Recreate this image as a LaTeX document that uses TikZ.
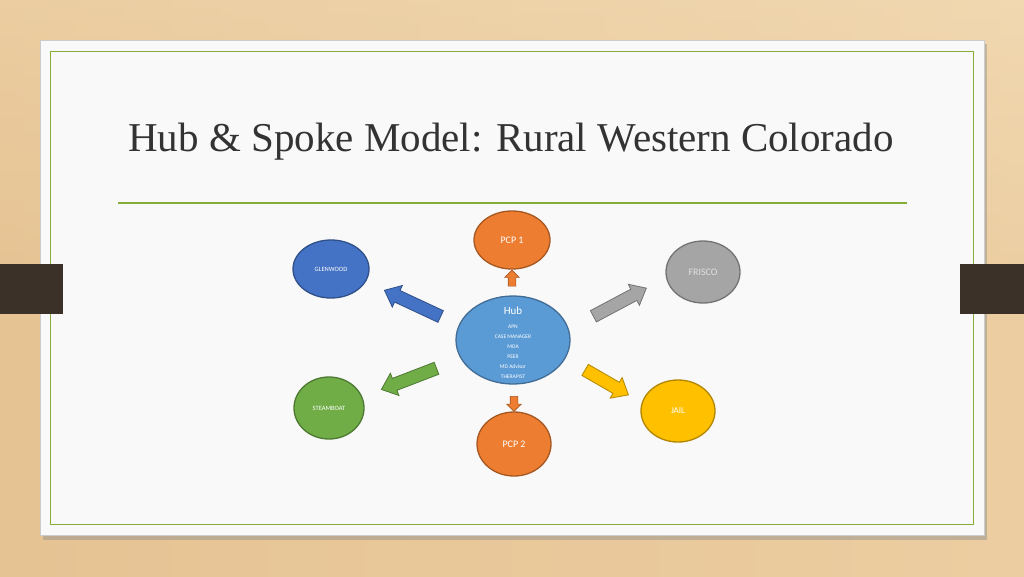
\documentclass[tikz,border=0pt]{standalone}
\usepackage{fontspec}
\setmainfont{Liberation Serif}
\newfontfamily\lblfont{Carlito}
\usetikzlibrary{shapes.geometric,shapes.arrows}
\definecolor{wood}{HTML}{E6C393}
\definecolor{woodlight}{HTML}{F1D8B0}
\definecolor{card}{HTML}{F9F9F9}
\definecolor{olive}{HTML}{86AD38}
\definecolor{tab}{HTML}{3B3129}
\definecolor{cblue}{HTML}{4472C4}
\definecolor{corange}{HTML}{ED7D31}
\definecolor{cgray}{HTML}{A5A5A5}
\definecolor{cyellow}{HTML}{FFC000}
\definecolor{cgreen}{HTML}{70AD47}
\definecolor{chub}{HTML}{5B9BD5}
\tikzset{
  blob/.style={ellipse, fill=#1, draw=#1!70!black, line width=1.3pt, inner sep=0pt, text=white, font=\lblfont},
  barrow/.style={single arrow, fill=#1, draw=#1!70!black, line width=0.8pt, single arrow head extend=5.5pt, inner sep=6pt, single arrow head indent=0pt, single arrow tip angle=80},
  sarrow/.style={single arrow, fill=#1, draw=#1!70!black, line width=0.6pt, single arrow head extend=3.5pt, inner sep=3.5pt, single arrow tip angle=90},
}
\begin{document}
\begin{tikzpicture}[x=1pt,y=-1pt]
\useasboundingbox (0,0) rectangle (1024,576);
% background
\shade[top color=woodlight, bottom color=wood, middle color=wood] (0,0) rectangle (1024,576);
\shade[left color=wood, right color=woodlight, opacity=0.5] (0,0) rectangle (1024,576);
% card shadow and card
\fill[black!45,opacity=0.45] (43,44) rectangle (987,540);
\fill[card] (40,40) rectangle (984,535);
\draw[black!20,line width=0.5pt] (40,40) rectangle (984,535);
\draw[olive,line width=1pt] (50,51) rectangle (973,524);
% title
\node[font=\fontsize{41}{46}\selectfont, text=black!80] (title) at (511,142) {Hub \& Spoke Model: Rural Western Colorado};
\draw[olive,line width=1.1pt] (118,203) -- (907,203);
% nodes
\node[blob=chub, minimum width=114pt, minimum height=88pt] (hub) at (513,340) {};
\node[text=white, font=\lblfont\fontsize{11}{12}\selectfont] (hubt) at (513,311) {Hub};
\node[text=white, font=\lblfont\fontsize{5.5}{10}\selectfont, align=center] (hubl) at (513,352) {APN\\CASE MANAGER\\MOA\\PEER\\MD Advisor\\THERAPIST};
\node[blob=corange, minimum width=76pt, minimum height=58pt, font=\lblfont\fontsize{10}{12}\selectfont] (pcp1) at (512,240) {PCP 1};
\node[blob=corange, minimum width=74pt, minimum height=64pt, font=\lblfont\fontsize{10}{12}\selectfont] (pcp2) at (514,444) {PCP 2};
\node[blob=cblue, minimum width=76pt, minimum height=58pt, font=\lblfont\fontsize{6.5}{8}\selectfont] (glen) at (331,269) {GLENWOOD};
\node[blob=cgray, minimum width=74pt, minimum height=62pt, text=black!12, font=\lblfont\fontsize{10}{12}\selectfont] (frisco) at (703,272) {FRISCO};
\node[blob=cgreen, minimum width=70pt, minimum height=62pt, font=\lblfont\fontsize{6.5}{8}\selectfont] (steam) at (329,408) {STEAMBOAT};
\node[blob=cyellow, minimum width=74pt, minimum height=62pt, font=\lblfont\fontsize{9}{10}\selectfont] (jail) at (678,411) {JAIL};
% block arrows
\node[sarrow=corange, minimum height=16pt, rotate=90] (a1) at (512,280) {};
\node[sarrow=corange, minimum height=15pt, rotate=-90] (a2) at (514,402) {};
\node[barrow=cblue, minimum height=62pt, rotate=155] (a3) at (416,305) {};
\node[barrow=cgray, minimum height=60pt, rotate=28] (a4) at (616.5,304) {};
\node[barrow=cgreen, minimum height=59pt, rotate=201] (a5) at (412.5,377.5) {};
\node[barrow=cyellow, minimum height=50pt, rotate=-30] (a6) at (603.5,380.5) {};
% tabs
\fill[tab] (0,264) rectangle (63,314);
\fill[tab] (960,264) rectangle (1024,314);
\end{tikzpicture}
\end{document}
